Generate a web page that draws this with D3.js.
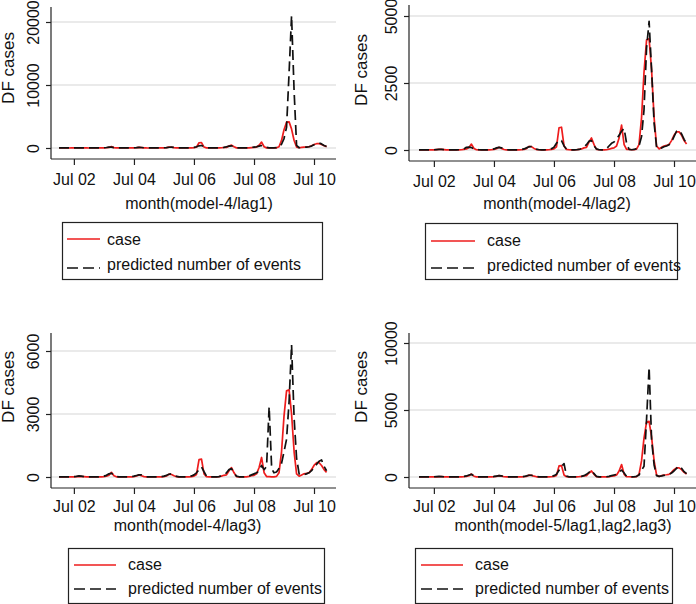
<!DOCTYPE html>
<html><head><meta charset="utf-8">
<script src="https://cdn.jsdelivr.net/npm/d3@7"></script>
<style>
body{margin:0;background:#fff}
svg{display:block}
text{font-family:"Liberation Sans",Arial,Helvetica,sans-serif;fill:#111}
</style>
</head><body>
<svg id="c" width="696" height="604"></svg>
<script>
// ---------------- DATA ----------------
// monthly observations, Jan 2002 .. Dec 2010
const monthLabels = [
  "2002-01","2002-02","2002-03","2002-04","2002-05","2002-06","2002-07","2002-08","2002-09","2002-10","2002-11","2002-12",
  "2003-01","2003-02","2003-03","2003-04","2003-05","2003-06","2003-07","2003-08","2003-09","2003-10","2003-11","2003-12",
  "2004-01","2004-02","2004-03","2004-04","2004-05","2004-06","2004-07","2004-08","2004-09","2004-10","2004-11","2004-12",
  "2005-01","2005-02","2005-03","2005-04","2005-05","2005-06","2005-07","2005-08","2005-09","2005-10","2005-11","2005-12",
  "2006-01","2006-02","2006-03","2006-04","2006-05","2006-06","2006-07","2006-08","2006-09","2006-10","2006-11","2006-12",
  "2007-01","2007-02","2007-03","2007-04","2007-05","2007-06","2007-07","2007-08","2007-09","2007-10","2007-11","2007-12",
  "2008-01","2008-02","2008-03","2008-04","2008-05","2008-06","2008-07","2008-08","2008-09","2008-10","2008-11","2008-12",
  "2009-01","2009-02","2009-03","2009-04","2009-05","2009-06","2009-07","2009-08","2009-09","2009-10","2009-11","2009-12",
  "2010-01","2010-02","2010-03","2010-04","2010-05","2010-06","2010-07","2010-08","2010-09","2010-10","2010-11","2010-12"
];

const caseValues = [
  2,1,1,2,3,5,8,15,20,25,15,5,
  3,1,1,2,5,10,20,40,90,220,60,10,
  5,2,2,3,5,10,20,50,100,60,20,5,
  3,2,2,3,5,10,20,50,140,120,60,15,
  10,5,5,5,10,20,40,120,830,850,150,20,
  10,5,5,10,20,40,80,100,300,450,200,20,
  10,5,5,10,30,60,80,150,450,930,200,20,
  20,10,10,30,200,1200,2900,4100,4150,3000,1200,150,
  40,100,150,170,200,350,550,680,680,550,350,220
];

const predLag1 = [
  5,5,5,5,5,10,10,15,20,20,15,10,
  5,5,5,5,10,20,40,80,150,150,60,20,
  10,5,5,5,10,20,40,60,90,80,40,10,
  5,5,5,5,10,20,40,70,120,130,80,30,
  10,5,5,10,20,50,100,200,350,400,200,40,
  10,5,5,10,20,50,100,200,300,350,200,40,
  10,5,5,20,50,100,150,200,300,400,350,100,
  20,10,20,50,150,600,1500,3300,12000,21000,9000,400,
  40,80,120,150,200,300,500,700,800,650,400,250
];

const predLag2 = [
  5,5,5,5,5,5,10,15,20,20,15,10,
  5,5,5,5,10,20,40,100,110,90,40,15,
  10,5,5,5,10,20,40,80,100,80,40,10,
  5,5,5,5,10,20,40,80,120,130,80,30,
  10,5,5,10,20,50,100,250,380,350,150,30,
  10,5,5,10,20,50,100,200,330,350,150,40,
  10,5,5,50,150,250,300,400,550,700,800,250,
  20,10,20,50,150,500,1500,3800,4800,3000,1000,100,
  40,80,120,150,200,300,500,700,740,600,400,230
];

const predLag3 = [
  5,5,5,5,5,10,20,30,50,40,20,10,
  5,5,5,5,10,20,40,80,150,180,80,20,
  10,5,5,5,10,20,40,70,100,100,40,10,
  5,5,5,5,10,20,40,80,130,150,100,30,
  10,5,5,10,20,50,100,200,350,480,250,40,
  10,5,5,10,20,50,100,200,350,400,200,40,
  10,5,5,20,50,100,150,200,300,550,350,500,
  3350,400,200,240,400,650,1200,1800,3600,6300,2800,900,
  150,100,120,150,200,300,450,600,750,810,500,300
];

const predModel5 = [
  5,5,5,5,5,10,20,30,40,30,20,10,
  5,5,5,5,10,20,40,80,150,200,80,20,
  10,5,5,5,10,20,40,70,100,80,40,10,
  5,5,5,5,10,20,40,80,130,130,80,30,
  10,5,5,10,20,50,100,200,500,800,1000,80,
  10,5,5,10,20,50,100,200,350,500,250,40,
  10,5,5,20,50,100,150,200,350,520,300,50,
  20,10,20,50,150,500,800,4300,8200,2800,900,100,
  50,80,120,150,200,300,450,650,820,650,400,250
];

const xTickLabels = ["2002-07","2004-07","2006-07","2008-07","2010-07"];
const yTicks1 = [0, 10000, 20000];
const yTicks2 = [0, 2500, 5000];
const yTicks3 = [0, 3000, 6000];
const yTicks4 = [0, 5000, 10000];
const panelTitles = ["month(model-4/lag1)","month(model-4/lag2)","month(model-4/lag3)","month(model-5/lag1,lag2,lag3)"];
const yTitle = "DF cases";
const legendLabels = ["case","predicted number of events"];

// ---------------- LAYOUT ----------------
const parseM = d3.timeParse("%Y-%m");
const dates = monthLabels.map(parseM);
const tickDates = xTickLabels.map(parseM);
const domX = [parseM("2002-01"), parseM("2010-07")];

const panels = [
  {pred: predLag1, ticks: yTicks1, title: panelTitles[0],
   ax:51, axR:336, yTop:7, yBase:159, tb:26, xr:[59,314], yr:[148,22], yl:[14,68], tt:[199,209],
   lg:{x:62,y:222,w:260,h:57,l1:67,l2:100,tx:107,r1:239,r2:268,b1:245,b2:270}},
  {pred: predLag2, ticks: yTicks2, title: panelTitles[1],
   ax:409, axR:696, yTop:5, yBase:161, tb:26, xr:[419,674], yr:[150,16], yl:[367,70], tt:[557,209],
   lg:{x:425,y:223,w:252,h:56,l1:431,l2:475,tx:487,r1:241,r2:268,b1:246,b2:271}},
  {pred: predLag3, ticks: yTicks3, title: panelTitles[2],
   ax:51, axR:336, yTop:333, yBase:488, tb:24, xr:[59,314], yr:[477,351], yl:[14,387], tt:[187.5,531],
   lg:{x:68,y:548,w:256,h:55,l1:74,l2:116,tx:128,r1:565,r2:589,b1:570,b2:594}},
  {pred: predModel5, ticks: yTicks4, title: panelTitles[3],
   ax:409, axR:696, yTop:333, yBase:488, tb:24, xr:[419,674], yr:[477,343], yl:[367,387], tt:[563,531],
   lg:{x:415,y:548,w:257,h:55,l1:421,l2:463,tx:475,r1:565,r2:589,b1:570,b2:594}}
];

const svg = d3.select("#c");
const RED = "#ee1c1c", BLK = "#111", AX = "#222", GRID = "#e3e3e3";
const DASH = "10,5";

panels.forEach(p => {
  const g = svg.append("g");
  const x = d3.scaleTime().domain(domX).range(p.xr);
  const y = d3.scaleLinear().domain([p.ticks[0], p.ticks[p.ticks.length-1]]).range(p.yr);

  // grid
  g.selectAll("line.grid").data(p.ticks).join("line")
    .attr("x1", p.ax).attr("x2", p.axR)
    .attr("y1", d => y(d)).attr("y2", d => y(d))
    .attr("stroke", GRID).attr("stroke-width", 1.3);

  const line = vals => d3.line().x((d,i) => x(dates[i])).y(d => y(d))(vals);

  g.append("path").attr("d", line(caseValues))
    .attr("fill","none").attr("stroke",RED).attr("stroke-width",1.7).attr("stroke-linejoin","round");
  g.append("path").attr("d", line(p.pred))
    .attr("fill","none").attr("stroke",BLK).attr("stroke-width",1.7)
    .attr("stroke-dasharray",DASH).attr("stroke-linejoin","round");

  // x axis
  const xa = g.append("g").attr("transform",`translate(0,${p.yBase})`)
    .call(d3.axisBottom(x).tickValues(tickDates).tickFormat(d3.timeFormat("%b %y")).tickSize(6).tickSizeOuter(0));
  xa.select(".domain").remove();
  xa.selectAll(".tick line").attr("stroke",AX).attr("stroke-width",1.2);
  xa.selectAll(".tick text").attr("y",p.tb).attr("dy",0).attr("font-size",16)
    .attr("font-family",'"Liberation Sans",Arial,sans-serif').attr("fill","#111");
  g.append("line").attr("x1",p.ax).attr("x2",p.axR).attr("y1",p.yBase).attr("y2",p.yBase)
    .attr("stroke",AX).attr("stroke-width",1.2);

  // y axis
  const ya = g.append("g").attr("transform",`translate(${p.ax},0)`)
    .call(d3.axisLeft(y).tickValues(p.ticks).tickFormat(d3.format("d")).tickSize(5).tickSizeOuter(0));
  ya.select(".domain").remove();
  ya.selectAll(".tick line").attr("stroke",AX).attr("stroke-width",1.2);
  ya.selectAll(".tick text").attr("x",0).attr("dy",0)
    .attr("transform","translate(-12,0) rotate(-90)")
    .attr("text-anchor","middle").attr("font-size",16)
    .attr("font-family",'"Liberation Sans",Arial,sans-serif').attr("fill","#111");
  g.append("line").attr("x1",p.ax).attr("x2",p.ax).attr("y1",p.yTop).attr("y2",p.yBase)
    .attr("stroke",AX).attr("stroke-width",1.2);

  // y title
  g.append("text").attr("transform",`translate(${p.yl[0]},${p.yl[1]}) rotate(-90)`)
    .attr("text-anchor","middle").attr("font-size",17).text(yTitle);

  // x title
  g.append("text").attr("x",p.tt[0]).attr("y",p.tt[1]).attr("text-anchor","middle")
    .attr("font-size",16).text(p.title);

  // legend
  const L = p.lg;
  g.append("rect").attr("x",L.x+0.5).attr("y",L.y+0.5).attr("width",L.w).attr("height",L.h)
    .attr("fill","#fff").attr("stroke","#222").attr("stroke-width",1.2);
  g.append("line").attr("x1",L.l1).attr("x2",L.l2).attr("y1",L.r1).attr("y2",L.r1)
    .attr("stroke",RED).attr("stroke-width",1.7);
  g.append("line").attr("x1",L.l1).attr("x2",L.l2).attr("y1",L.r2).attr("y2",L.r2)
    .attr("stroke",BLK).attr("stroke-width",1.7).attr("stroke-dasharray","11,5");
  g.append("text").attr("x",L.tx).attr("y",L.b1).attr("font-size",16).text(legendLabels[0]);
  g.append("text").attr("x",L.tx).attr("y",L.b2).attr("font-size",16).text(legendLabels[1]);
});
</script>
</body></html>
